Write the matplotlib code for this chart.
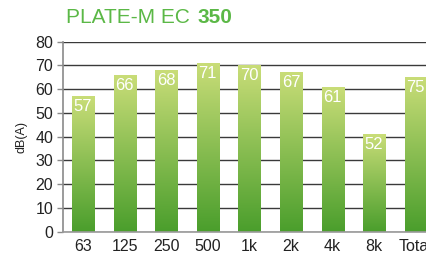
import matplotlib.pyplot as plt
import numpy as np
from matplotlib.colors import LinearSegmentedColormap

plt.rcParams['font.family'] = ['Liberation Sans', 'DejaVu Sans']

bands = ['63', '125', '250', '500', '1k', '2k', '4k', '8k', 'Total']
heights = [57, 66, 68, 71, 70, 67, 61, 41, 65]
labels = ['57', '66', '68', '71', '70', '67', '61', '52', '75']

fig = plt.figure(figsize=(4.27, 2.59), dpi=100)
ax = fig.add_axes([0.1475, 0.1054, 0.8525, 0.7336])

x_pos = np.arange(len(bands))
bar_width = 0.53
bars = ax.bar(x_pos, heights, bar_width, color='none', zorder=2)

# vertical gradient in each bar, light at the top, green at the bottom
cmap = LinearSegmentedColormap.from_list('g', ['#4a9e2c', '#c9dd78'])
grad = np.linspace(0, 1, 256).reshape(-1, 1)
for b in bars:
    x0 = b.get_x()
    ax.imshow(grad, cmap=cmap, origin='lower', aspect='auto', zorder=2,
              extent=(x0, x0 + b.get_width(), 0, b.get_height()))

for b, lab in zip(bars, labels):
    ax.annotate(lab, (b.get_x() + b.get_width() / 2, b.get_height()),
                xytext=(0, -2), textcoords='offset points', ha='center', va='top',
                color='white', fontsize=12, zorder=3)

ax.set_xlim(-0.48, 8.27)
ax.set_ylim(0, 80)
ax.set_yticks(range(0, 81, 10))
ax.set_xticks(x_pos, bands)
ax.yaxis.grid(True, color='#3a3a3a', lw=1.0)
ax.set_axisbelow(True)

for s in ['top', 'right']:
    ax.spines[s].set_visible(False)
ax.spines['left'].set_color('#8a8a8a')
ax.spines['bottom'].set_color('#9a9a9a')
ax.spines['left'].set_linewidth(1.2)
ax.spines['bottom'].set_linewidth(1.2)
ax.tick_params(axis='y', length=4, width=1, color='#8a8a8a', pad=3, labelsize=11.5, labelcolor='#222222')
ax.tick_params(axis='x', length=0, pad=5, labelsize=11.5, labelcolor='#222222')
ax.set_ylabel('dB(A)', fontsize=9, color='#222222', labelpad=6)

fig.text(0.155, 0.91, 'PLATE-M EC', color='#5bb846', fontsize=15, va='baseline')
fig.text(0.463, 0.91, '350', color='#5bb846', fontsize=15, fontweight='bold', va='baseline')

fig.savefig('out.png', dpi=100)
